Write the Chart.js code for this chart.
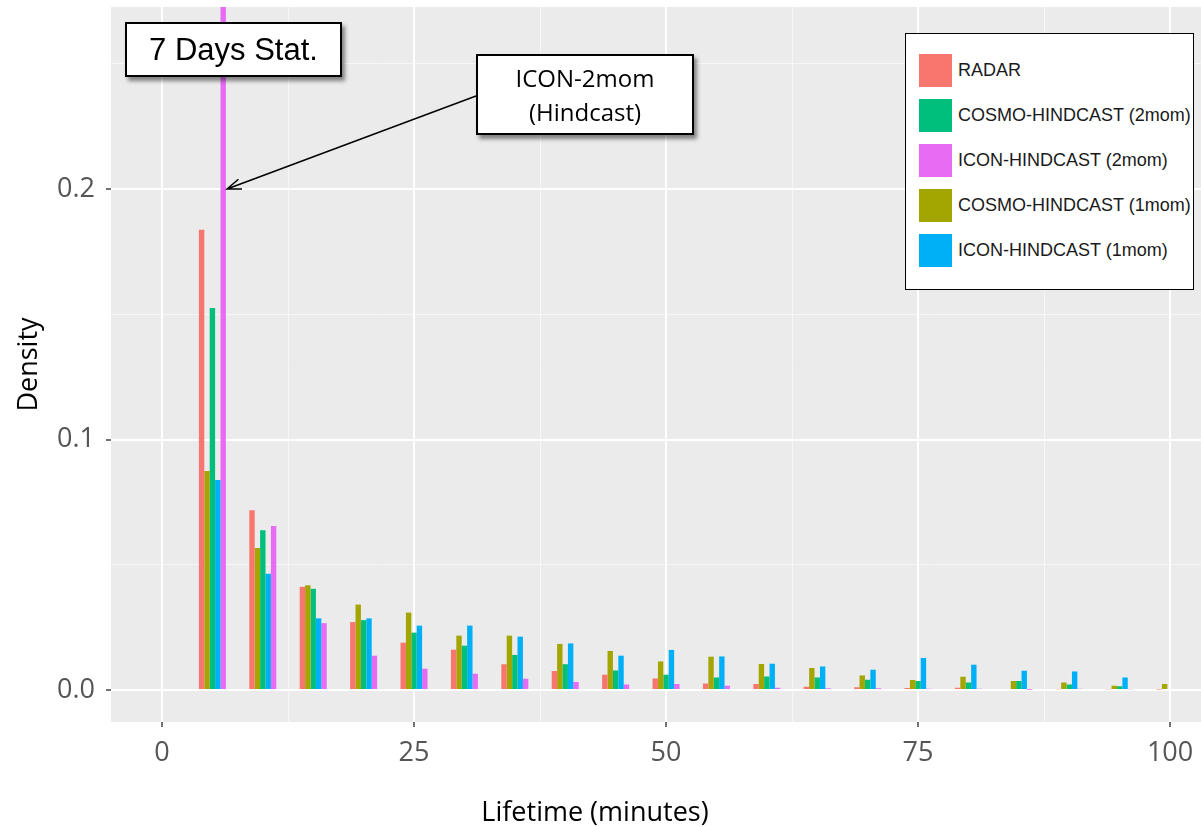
<!DOCTYPE html>
<html>
<head>
<meta charset="utf-8">
<title>Lifetime density</title>
<script src="https://cdn.jsdelivr.net/npm/chart.js@4"></script>
<style>
  html, body { margin: 0; padding: 0; background: #fff; }
  #wrap { position: relative; width: 1201px; height: 826px; overflow: hidden; }
  #chart { position: absolute; left: 0; top: 0; }
  .callout {
    position: absolute; background: #fff; border: 2px solid #000; box-sizing: border-box;
    box-shadow: 3px 4px 4px rgba(0, 0, 0, 0.45); text-align: center; color: #000;
  }
  #stat { left: 125px; top: 22px; width: 217px; height: 55px; font: 31px 'Liberation Sans', Arial, sans-serif; line-height: 51px; }
  #model { left: 476px; top: 54px; width: 218px; height: 81px; font: 24px 'Open Sans', sans-serif; line-height: 34px; padding-top: 5px; }
  #xtitle { position: absolute; left: 395px; width: 400px; top: 792px; text-align: center; font: 27px 'Open Sans', sans-serif; color: #000; line-height: 38px; }
  #legend {
    position: absolute; left: 905px; top: 33px; width: 289px; height: 257px;
    border: 1.5px solid #000; background: #fff; box-sizing: border-box;
    font: 18px 'Liberation Sans', Arial, sans-serif; color: #1a1a1a;
  }
  .item { position: absolute; left: 13px; height: 34px; display: flex; align-items: center; white-space: nowrap; }
  .swatch { width: 33px; height: 33px; margin-right: 6px; }
</style>
</head>
<body>
<div id="wrap">
  <canvas id="chart" width="1201" height="826"></canvas>
  <div id="xtitle">Lifetime (minutes)</div>
  <div id="stat" class="callout">7 Days Stat.</div>
  <div id="model" class="callout">ICON-2mom<br>(Hindcast)</div>
  <div id="legend"></div>
</div>
<script>
// lifetime bins (minutes)
const LIFETIME = [5, 10, 15, 20, 25, 30, 35, 40, 45, 50, 55, 60, 65, 70, 75, 80, 85, 90, 95, 100];

const RADAR      = [0.1837, 0.0718, 0.0412, 0.0271, 0.0189, 0.0161, 0.0103, 0.0076, 0.0061, 0.0046, 0.0026, 0.0024, 0.0013, 0.0011, 0.0008, 0.0009, 0.0004, 0.0003, 0.0003, 0.0002];
const COSMO_1MOM = [0.0874, 0.0567, 0.0418, 0.0341, 0.0309, 0.0217, 0.0217, 0.0184, 0.0156, 0.0114, 0.0133, 0.0104, 0.0088, 0.0058, 0.0040, 0.0053, 0.0036, 0.0030, 0.0017, 0.0024];
const COSMO_2MOM = [0.1525, 0.0638, 0.0404, 0.0279, 0.0229, 0.0177, 0.0140, 0.0103, 0.0078, 0.0061, 0.0050, 0.0054, 0.0050, 0.0041, 0.0036, 0.0030, 0.0036, 0.0022, 0.0015, 0];
const ICON_1MOM  = [0.0838, 0.0464, 0.0286, 0.0286, 0.0257, 0.0257, 0.0213, 0.0186, 0.0137, 0.0160, 0.0134, 0.0105, 0.0094, 0.0081, 0.0128, 0.0101, 0.0077, 0.0074, 0.0050, 0];
const ICON_2MOM  = [0.2850, 0.0655, 0.0267, 0.0137, 0.0085, 0.0065, 0.0045, 0.0032, 0.0022, 0.0024, 0.0017, 0.0009, 0.0007, 0.0007, 0.0005, 0.0005, 0.0001, 0.0005, 0.0003, 0];

// dodge order inside each bin
const SERIES = [
  { label: 'RADAR',                 color: '#F8766D', values: RADAR },
  { label: 'COSMO-HINDCAST (1mom)', color: '#A3A500', values: COSMO_1MOM },
  { label: 'COSMO-HINDCAST (2mom)', color: '#00BF7D', values: COSMO_2MOM },
  { label: 'ICON-HINDCAST (1mom)',  color: '#00B0F6', values: ICON_1MOM },
  { label: 'ICON-HINDCAST (2mom)',  color: '#E76BF3', values: ICON_2MOM }
];
const LEGEND_ORDER = ['RADAR', 'COSMO-HINDCAST (2mom)', 'ICON-HINDCAST (2mom)', 'COSMO-HINDCAST (1mom)', 'ICON-HINDCAST (1mom)'];

const X_TICKS  = [0, 12.5, 25, 37.5, 50, 62.5, 75, 87.5, 100];
const X_LABELS = ['0', '', '25', '', '50', '', '75', '', '100'];
const Y_TICKS  = [0, 0.05, 0.1, 0.15, 0.2, 0.25];
const Y_LABELS = ['0.0', '', '0.1', '', '0.2', ''];

const tickFont = { family: "'Open Sans', sans-serif", size: 27 };
const titleFont = { family: "'Open Sans', sans-serif", size: 27 };

function gridFor(labels) {
  const major = ctx => labels[ctx.index] !== '';
  return {
    offset: false,
    color: ctx => major(ctx) ? '#ffffff' : '#f7f7f7',
    lineWidth: ctx => major(ctx) ? 2 : 1,
    tickColor: ctx => major(ctx) ? '#444444' : 'rgba(0,0,0,0)',
    tickWidth: 1.5,
    tickLength: 5
  };
}

// grey panel behind the grid
const panel = {
  id: 'panel',
  beforeDraw(chart) {
    const { ctx, chartArea: a } = chart;
    ctx.save();
    ctx.fillStyle = '#EBEBEB';
    ctx.fillRect(a.left, a.top, a.right - a.left, a.bottom - a.top);
    ctx.restore();
  }
};

// arrow from the model callout to the tall ICON-2mom bar
const arrow = {
  id: 'arrow',
  afterDraw(chart) {
    const { ctx, scales } = chart;
    const tx = scales.x.getPixelForValue(6.45);
    const ty = scales.y.getPixelForValue(0.2);
    const fx = 476, fy = 96;
    const ang = Math.atan2(ty - fy, tx - fx);
    const head = 15;
    ctx.save();
    ctx.strokeStyle = '#000';
    ctx.lineWidth = 1.5;
    ctx.beginPath();
    ctx.moveTo(fx, fy);
    ctx.lineTo(tx, ty);
    ctx.moveTo(tx - head * Math.cos(ang - 0.35), ty - head * Math.sin(ang - 0.35));
    ctx.lineTo(tx, ty);
    ctx.lineTo(tx - head * Math.cos(ang + 0.35), ty - head * Math.sin(ang + 0.35));
    ctx.stroke();
    ctx.restore();
  }
};

new Chart(document.getElementById('chart'), {
  type: 'bar',
  data: {
    datasets: SERIES.map(s => ({
      label: s.label,
      data: LIFETIME.map((x, i) => ({ x, y: s.values[i] })),
      backgroundColor: s.color,
      borderWidth: 0,
      categoryPercentage: 0.536,
      barPercentage: 1.0
    }))
  },
  options: {
    responsive: false,
    animation: false,
    layout: { padding: { top: 7, left: 0, right: 0, bottom: 0 } },
    plugins: { legend: { display: false }, tooltip: { enabled: false } },
    scales: {
      x: {
        type: 'linear',
        offset: false,
        min: -5.06,
        max: 103.07,
        afterBuildTicks: s => { s.ticks = X_TICKS.map(v => ({ value: v })); },
        afterFit: s => { s.height = 104; s.paddingLeft = 0; s.paddingRight = 0; },
        ticks: {
          callback: (v, i) => X_LABELS[i],
          autoSkip: false, maxRotation: 0, padding: 10,
          color: '#555555', font: tickFont
        },
        grid: gridFor(X_LABELS),
        border: { display: false }
      },
      y: {
        min: -0.01277,
        max: 0.27266,
        afterBuildTicks: s => { s.ticks = Y_TICKS.map(v => ({ value: v })); },
        afterFit: s => { s.width = 111; s.paddingTop = 0; s.paddingBottom = 0; },
        ticks: {
          callback: (v, i) => Y_LABELS[i],
          autoSkip: false, padding: 11,
          color: '#555555', font: tickFont
        },
        grid: gridFor(Y_LABELS),
        border: { display: false },
        title: { display: true, text: 'Density', color: '#000', font: titleFont, padding: { top: 13, bottom: 0 } }
      }
    }
  },
  plugins: [panel, arrow]
});

// legend box, listed in its own order
const legend = document.getElementById('legend');
LEGEND_ORDER.forEach((name, i) => {
  const s = SERIES.find(d => d.label === name);
  const row = document.createElement('div');
  row.className = 'item';
  row.style.top = (19 + i * 45) + 'px';
  const sw = document.createElement('div');
  sw.className = 'swatch';
  sw.style.background = s.color;
  const txt = document.createElement('span');
  txt.textContent = s.label;
  row.appendChild(sw);
  row.appendChild(txt);
  legend.appendChild(row);
});
</script>
</body>
</html>
